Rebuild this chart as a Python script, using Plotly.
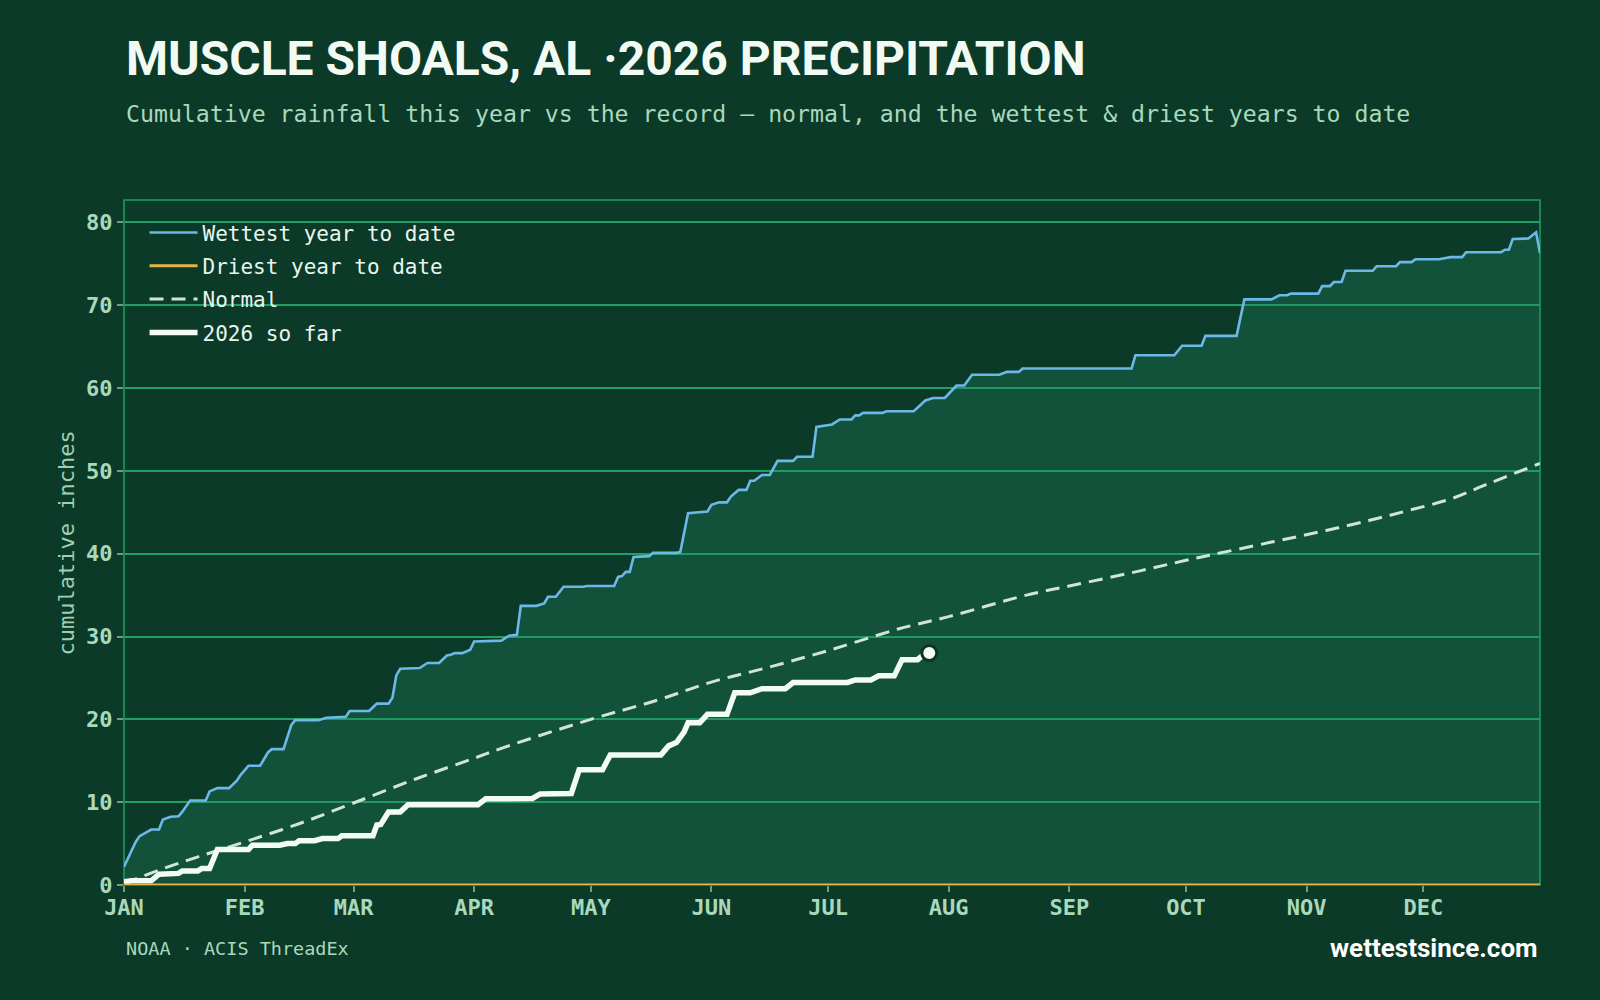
import plotly.graph_objects as go
import pandas as pd

# ---------------- data ----------------
YEAR_START = "2026-01-01"

wettest_day = [0, 3, 4, 7, 9, 10, 12, 14, 15, 17, 21, 22, 24, 27, 29, 30, 32, 35, 37, 38, 41, 43, 44, 50,
               52, 57, 58, 63, 65, 68, 69, 70, 71, 76, 78, 81, 83, 84, 85, 87, 89, 90, 97, 99, 101, 102,
               106, 108, 109, 111, 113, 118, 119, 126, 127, 128, 129, 130, 131, 135, 136, 142, 143, 145,
               150, 151, 153, 155, 156, 158, 160, 161, 162, 164, 166, 168, 172, 173, 177, 178, 182, 184,
               187, 188, 189, 190, 195, 196, 203, 206, 208, 211, 214, 216, 218, 225, 227, 230, 231, 259,
               260, 270, 272, 277, 278, 286, 288, 295, 297, 299, 300, 307, 308, 310, 311, 313, 314, 321,
               322, 327, 328, 331, 332, 338, 341, 344, 345, 354, 355, 356, 357, 361, 363, 364]
wettest_val = [2.2, 5.2, 5.9, 6.7, 6.7, 7.9, 8.25, 8.3, 8.85, 10.2, 10.2, 11.3, 11.7, 11.7, 12.6, 13.3,
               14.4, 14.4, 16.0, 16.4, 16.4, 19.3, 19.9, 19.9, 20.2, 20.3, 21.0, 21.0, 21.9, 21.9, 22.6,
               25.3, 26.1, 26.2, 26.8, 26.8, 27.7, 27.8, 28.0, 28.0, 28.4, 29.4, 29.5, 30.1, 30.2, 33.7,
               33.7, 34.0, 34.8, 34.8, 36.0, 36.0, 36.1, 36.1, 37.2, 37.3, 37.8, 37.8, 39.6, 39.7, 40.1,
               40.1, 40.2, 44.9, 45.1, 45.9, 46.2, 46.2, 46.9, 47.7, 47.7, 48.8, 48.8, 49.5, 49.5, 51.2,
               51.2, 51.7, 51.7, 55.3, 55.6, 56.2, 56.2, 56.7, 56.7, 57.0, 57.0, 57.2, 57.2, 58.5, 58.8,
               58.8, 60.3, 60.3, 61.6, 61.6, 61.95, 61.95, 62.35, 62.35, 63.95, 63.95, 65.1, 65.1, 66.3,
               66.3, 70.7, 70.7, 71.2, 71.2, 71.4, 71.4, 72.3, 72.3, 72.8, 72.8, 74.15, 74.15, 74.7,
               74.7, 75.2, 75.2, 75.55, 75.55, 75.8, 75.8, 76.4, 76.4, 76.7, 76.7, 78.0, 78.05, 78.8, 76.3]

driest_day = [0, 364]
driest_val = [0.0, 0.0]

normal_day = [0, 9, 19, 31, 45, 59, 75, 90, 97, 120, 137, 151, 165, 181, 199, 212, 232, 243, 260, 273,
              280, 295, 308, 320, 330, 341, 351, 364]
normal_val = [0.17, 1.8, 3.4, 5.2, 7.4, 9.9, 12.8, 15.3, 16.5, 20.0, 22.3, 24.5, 26.2, 28.3, 30.9, 32.4,
              35.0, 36.1, 37.8, 39.2, 39.9, 41.4, 42.7, 44.0, 45.2, 46.6, 48.5, 50.9]

current_day = [0, 2, 7, 9, 14, 15, 19, 20, 22, 24, 32, 33, 40, 42, 44, 45, 49, 51, 55, 56, 64, 65, 66,
               67, 68, 71, 73, 91, 93, 105, 107, 115, 117, 123, 125, 138, 140, 142, 144, 145, 148, 150,
               155, 157, 161, 164, 170, 172, 186, 188, 192, 194, 198, 200, 204, 205, 207]
current_val = [0.4, 0.5, 0.5, 1.3, 1.4, 1.7, 1.7, 2.0, 2.0, 4.3, 4.3, 4.8, 4.8, 5.0, 5.0, 5.35, 5.35,
               5.6, 5.6, 5.95, 5.95, 7.25, 7.3, 8.2, 8.8, 8.8, 9.7, 9.7, 10.4, 10.45, 11.0, 11.05, 13.9,
               13.9, 15.7, 15.7, 16.8, 17.2, 18.5, 19.6, 19.6, 20.6, 20.6, 23.2, 23.2, 23.7, 23.7, 24.45,
               24.45, 24.75, 24.75, 25.25, 25.25, 27.2, 27.2, 27.6, 28.0]

month_ticks = ["2026-01-01", "2026-02-01", "2026-03-01", "2026-04-01", "2026-05-01", "2026-06-01",
               "2026-07-01", "2026-08-01", "2026-09-01", "2026-10-01", "2026-11-01", "2026-12-01"]
month_labels = ["JAN", "FEB", "MAR", "APR", "MAY", "JUN", "JUL", "AUG", "SEP", "OCT", "NOV", "DEC"]
y_ticks = [0, 10, 20, 30, 40, 50, 60, 70, 80]

title_text = "MUSCLE SHOALS, AL ·2026 PRECIPITATION"
subtitle_text = "Cumulative rainfall this year vs the record — normal, and the wettest & driest years to date"
source_text = "NOAA · ACIS ThreadEx"
brand_text = "wettestsince.com"


def to_dates(days):
    return list(pd.Timestamp(YEAR_START) + pd.to_timedelta(days, unit="D"))


# ---------------- style ----------------
BG = "#0b3a29"
GRID = "#1fa064"
MINT = "#a9d9bb"
MONO = "DejaVu Sans Mono"
SANS = "Roboto"

fig = go.Figure()

wx = to_dates(wettest_day)
# fill under wettest
fig.add_trace(go.Scatter(x=wx, y=wettest_val, mode="lines", line=dict(width=0, color="rgba(0,0,0,0)"),
                         fill="tozeroy", fillcolor="rgba(41,138,101,0.30)", showlegend=False,
                         hoverinfo="skip", legendgroup="z"))
fig.add_trace(go.Scatter(x=wx, y=wettest_val, mode="lines", name="Wettest year to date",
                         line=dict(color="#6db8e8", width=2.6), legendgroup="a", legendrank=1))
fig.add_trace(go.Scatter(x=to_dates(normal_day), y=normal_val, mode="lines", name="Normal",
                         line=dict(color="#cfe5d6", width=3, dash="14px,8px", shape="spline"),
                         legendgroup="c", legendrank=3))
cx = to_dates(current_day)
fig.add_trace(go.Scatter(x=cx, y=current_val, mode="lines", name="2026 so far",
                         line=dict(color="#f3fbf5", width=5.5), legendgroup="d", legendrank=4))
fig.add_trace(go.Scatter(x=[cx[-1]], y=[current_val[-1]], mode="markers", showlegend=False,
                         marker=dict(size=15, color="#f3fbf5", line=dict(color="#0e3524", width=3)),
                         cliponaxis=False, legendgroup="d"))
fig.add_trace(go.Scatter(x=to_dates(driest_day), y=driest_val, mode="lines", name="Driest year to date",
                         line=dict(color="#e5b447", width=3), legendgroup="b", legendrank=2))

# border rectangle
fig.add_shape(type="rect", xref="paper", yref="paper", x0=0, x1=1, y0=0, y1=1,
              line=dict(color=GRID, width=1.5), layer="below")

fig.update_layout(
    width=1600, height=1000,
    paper_bgcolor=BG, plot_bgcolor=BG,
    margin=dict(l=124, r=60, t=200, b=115),
    showlegend=True,
    legend=dict(x=0.0145, y=0.982, xanchor="left", yanchor="top", bgcolor="rgba(0,0,0,0)",
                font=dict(family=MONO, size=21, color="#e9f5ee"), tracegroupgap=3,
                itemwidth=48, traceorder="grouped"),
    xaxis=dict(
        type="date", range=[to_dates([0])[0], to_dates([364])[0]],
        tickvals=month_ticks, ticktext=month_labels,
        showgrid=False, zeroline=False, showline=False,
        ticks="outside", ticklen=6, tickwidth=1.5, tickcolor="#6f9c83",
        ticklabelstandoff=-3,
        tickfont=dict(family=MONO, size=22, color=MINT, weight="bold"),
    ),
    yaxis=dict(
        range=[0, 82.7], tickvals=y_ticks,
        showgrid=True, gridcolor=GRID, gridwidth=1.5, zeroline=False, showline=False,
        ticks="outside", ticklen=6, tickwidth=1.5, tickcolor="#6f9c83",
        tickfont=dict(family=MONO, size=22, color=MINT, weight="bold"),
    ),
    annotations=[
        dict(text=title_text, xref="paper", yref="paper", x=0, y=1.2065, xanchor="left",
             yanchor="middle", showarrow=False,
             font=dict(family=SANS, size=48, color="#f2faf4", weight="bold")),
        dict(text=subtitle_text, xref="paper", yref="paper", x=0, y=1.127, xanchor="left",
             yanchor="middle", showarrow=False, font=dict(family=MONO, size=23.2, color=MINT)),
        dict(text="cumulative inches", xref="paper", yref="paper", x=-0.0403, y=0.5, xanchor="center",
             yanchor="middle", textangle=-90, showarrow=False,
             font=dict(family=MONO, size=22, color="#9fcfb1")),
        dict(text=source_text, xref="paper", yref="paper", x=0, y=-0.092, xanchor="left",
             yanchor="middle", showarrow=False, font=dict(family=MONO, size=18.5, color=MINT)),
        dict(text=brand_text, xref="paper", yref="paper", x=1, y=-0.092, xanchor="right",
             yanchor="middle", showarrow=False,
             font=dict(family=SANS, size=26, color="#ffffff", weight="bold")),
    ],
)

fig.write_html("out.html")
